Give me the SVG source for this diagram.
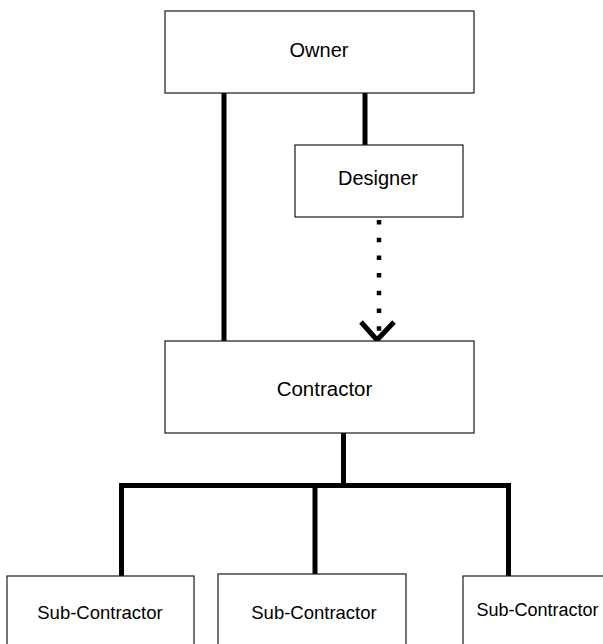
<svg xmlns="http://www.w3.org/2000/svg" width="603" height="644" viewBox="0 0 603 644">
  <style>
    .box { fill: #ffffff; stroke: #1a1a1a; stroke-width: 1.2; }
    .label { font-family: "Liberation Sans", Arial, sans-serif; fill: #000000; text-anchor: middle; }
    .link { fill: none; stroke: #000000; stroke-width: 5; stroke-linejoin: miter; }
    .dotted { fill: none; stroke: #000000; stroke-width: 4.5; stroke-dasharray: 4.5 13.2; }
  </style>
  <rect width="603" height="644" fill="#ffffff"/>

  <!-- connectors -->
  <g id="connectors">
    <line class="link" x1="224" y1="93" x2="224" y2="341"/>
    <line class="link" x1="365" y1="93" x2="365" y2="145"/>
    <line class="dotted" x1="379" y1="220" x2="379" y2="332"/>
    <path class="link" d="M361,322 L377,340 L394,322"/>
    <line class="link" x1="343.5" y1="433" x2="343.5" y2="486"/>
    <path class="link" d="M121.5,576 V485.5 H508.5 V576"/>
    <line class="link" x1="315" y1="485.5" x2="315" y2="574"/>
  </g>

  <!-- nodes -->
  <g id="owner">
    <rect class="box" x="165" y="11" width="309" height="82"/>
    <text class="label" x="319" y="57" font-size="20">Owner</text>
  </g>
  <g id="designer">
    <rect class="box" x="295" y="145" width="168" height="72"/>
    <text class="label" x="378" y="185" font-size="20">Designer</text>
  </g>
  <g id="contractor">
    <rect class="box" x="165" y="341" width="309" height="92"/>
    <text class="label" x="324.5" y="396" font-size="20.5">Contractor</text>
  </g>
  <g id="sub-contractor-1">
    <rect class="box" x="7" y="576" width="187" height="80"/>
    <text class="label" x="100" y="619" font-size="18.5">Sub-Contractor</text>
  </g>
  <g id="sub-contractor-2">
    <rect class="box" x="218" y="574" width="188" height="82"/>
    <text class="label" x="314" y="619" font-size="18.5">Sub-Contractor</text>
  </g>
  <g id="sub-contractor-3">
    <rect class="box" x="463" y="576" width="160" height="80"/>
    <text class="label" x="537.5" y="616" font-size="18">Sub-Contractor</text>
  </g>
</svg>
